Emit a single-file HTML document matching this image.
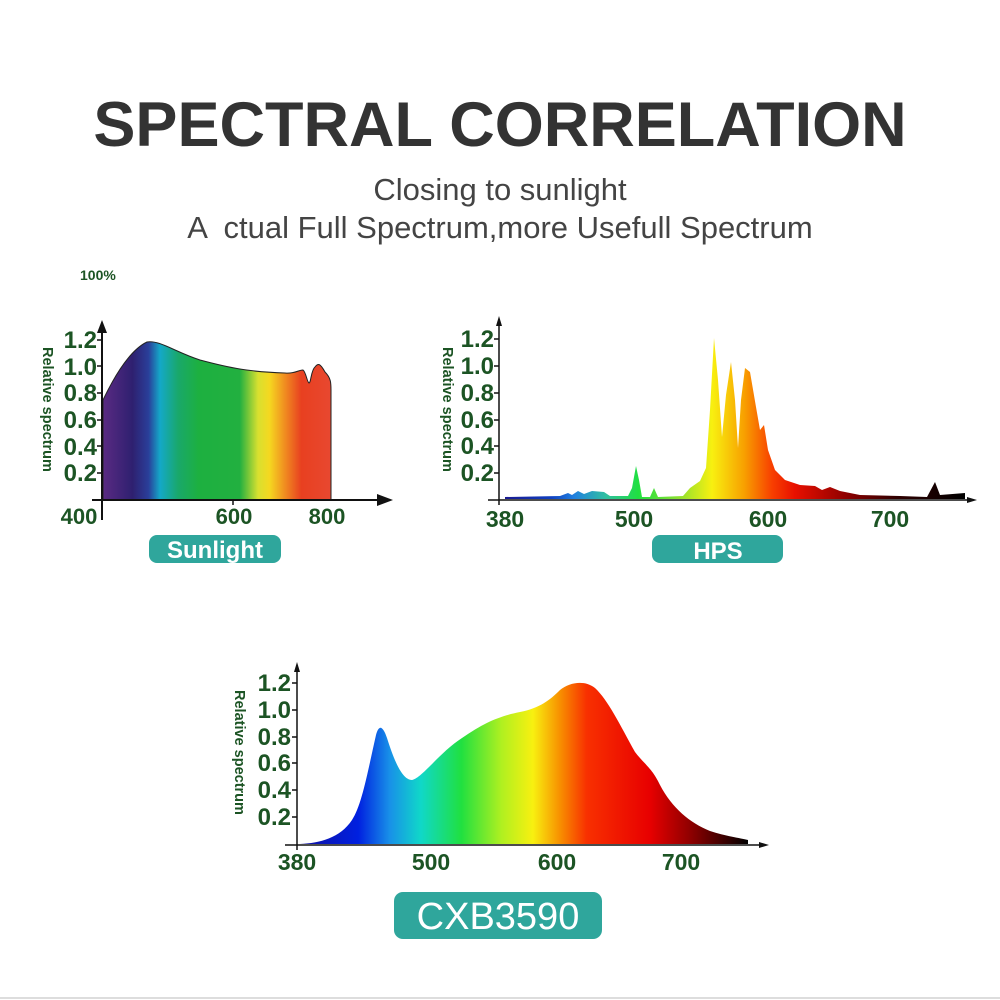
<!DOCTYPE html>
<html><head><meta charset="utf-8"><style>
body{margin:0;background:#fff;width:1000px;height:1000px;overflow:hidden}
svg{display:block}
.t{font-family:"Liberation Sans",sans-serif;font-weight:bold;fill:#1c5424}
</style></head><body>
<svg width="1000" height="1000" viewBox="0 0 1000 1000">
<defs>
<linearGradient id="gs" gradientUnits="userSpaceOnUse" x1="103" x2="331" y1="0" y2="0">
<stop offset="0" stop-color="#5a2a82"/><stop offset="0.13" stop-color="#2e2070"/>
<stop offset="0.2" stop-color="#2a3f9a"/><stop offset="0.25" stop-color="#14a8c8"/>
<stop offset="0.33" stop-color="#19a86a"/><stop offset="0.42" stop-color="#1db040"/>
<stop offset="0.6" stop-color="#22b040"/><stop offset="0.68" stop-color="#d8e030"/>
<stop offset="0.73" stop-color="#f5d820"/><stop offset="0.8" stop-color="#f08a20"/>
<stop offset="0.87" stop-color="#e84020"/><stop offset="1" stop-color="#e84830"/>
</linearGradient>
<linearGradient id="gh" gradientUnits="userSpaceOnUse" x1="505" x2="965" y1="0" y2="0">
<stop offset="0" stop-color="#1a1a90"/><stop offset="0.1" stop-color="#1040c0"/>
<stop offset="0.15" stop-color="#2080e0"/><stop offset="0.22" stop-color="#30c0a0"/>
<stop offset="0.29" stop-color="#20e040"/><stop offset="0.38" stop-color="#90e030"/>
<stop offset="0.45" stop-color="#f8f010"/><stop offset="0.52" stop-color="#f8a000"/>
<stop offset="0.58" stop-color="#f84000"/><stop offset="0.63" stop-color="#e81000"/>
<stop offset="0.74" stop-color="#900000"/><stop offset="0.85" stop-color="#300000"/>
<stop offset="1" stop-color="#000"/>
</linearGradient>
<linearGradient id="gc" gradientUnits="userSpaceOnUse" x1="300" x2="748" y1="0" y2="0">
<stop offset="0" stop-color="#1010a0"/><stop offset="0.13" stop-color="#0020e0"/>
<stop offset="0.2" stop-color="#1890e8"/><stop offset="0.27" stop-color="#10d8c8"/>
<stop offset="0.36" stop-color="#20e040"/><stop offset="0.45" stop-color="#b0f020"/>
<stop offset="0.52" stop-color="#f8f010"/><stop offset="0.58" stop-color="#f89000"/>
<stop offset="0.64" stop-color="#f83000"/><stop offset="0.78" stop-color="#e80000"/>
<stop offset="0.87" stop-color="#900000"/><stop offset="1" stop-color="#000"/>
</linearGradient>
</defs>

<text x="500" y="146" text-anchor="middle" font-family="Liberation Sans,sans-serif" font-weight="bold" font-size="63" fill="#333">SPECTRAL CORRELATION</text>
<text x="500" y="200" text-anchor="middle" font-family="Liberation Sans,sans-serif" font-size="31" fill="#444">Closing to sunlight</text>
<text x="500" y="238" text-anchor="middle" font-family="Liberation Sans,sans-serif" font-size="31" fill="#444" xml:space="preserve">A  ctual Full Spectrum,more Usefull Spectrum</text>

<!-- Sunlight -->
<text class="t" x="80" y="280" font-size="14">100%</text>
<path d="M103,500 L103,400 C115,375 130,350 147,342 C160,340 175,352 200,360 C230,368 250,372 285,373 C295,374 298,370 303,370 C306,372 307,382 309,383 C311,383 311,370 315,367 C318,363 320,363 325,372 C331,378 331,383 331,390 L331,500 Z" fill="url(#gs)" stroke="#222" stroke-width="1"/>
<line x1="102" y1="330" x2="102" y2="520" stroke="#111" stroke-width="2"/>
<polygon points="102,320 97,333 107,333" fill="#111"/>
<line x1="92" y1="500" x2="380" y2="500" stroke="#111" stroke-width="2"/>
<polygon points="393,500 377,494 377,506" fill="#111"/>
<g stroke="#111" stroke-width="1.5"><line x1="97" y1="340" x2="102" y2="340"/><line x1="97" y1="366" x2="102" y2="366"/><line x1="97" y1="393" x2="102" y2="393"/><line x1="97" y1="420" x2="102" y2="420"/><line x1="97" y1="446" x2="102" y2="446"/><line x1="97" y1="473" x2="102" y2="473"/><line x1="233" y1="500" x2="233" y2="505"/></g>
<g class="t" font-size="24" text-anchor="end"><text x="97" y="348">1.2</text><text x="97" y="375">1.0</text><text x="97" y="401">0.8</text><text x="97" y="428">0.6</text><text x="97" y="455">0.4</text><text x="97" y="481">0.2</text></g>
<g class="t" font-size="22" text-anchor="middle"><text x="79" y="524">400</text><text x="234" y="524">600</text><text x="327" y="524">800</text></g>
<text class="t" font-size="14.5" transform="translate(43,347) rotate(90)">Relative spectrum</text>
<rect x="149" y="535" width="132" height="28" rx="8" fill="#2fa69c"/>
<text x="215" y="558" text-anchor="middle" font-family="Liberation Sans,sans-serif" font-weight="bold" font-size="24" fill="#fff">Sunlight</text>

<!-- HPS -->
<path d="M505,499 L505,497 L560,496 L568,493 L572,495 L578,491 L584,494 L592,491 L604,492 L610,496 L628,496 L632,488 L636,466 L639,480 L642,497 L650,497 L654,488 L658,497 L683,496 L690,488 L700,481 L706,468 L710,410 L714,338 L718,380 L722,437 L726,395 L731,362 L735,400 L738,448 L741,400 L745,368 L750,372 L756,407 L760,430 L764,425 L768,450 L775,470 L785,480 L800,485 L815,486 L822,490 L830,487 L840,491 L860,495 L900,496 L927,497 L935,482 L940,495 L965,493 L965,499 Z" fill="url(#gh)"/>
<line x1="499" y1="322" x2="499" y2="505" stroke="#111" stroke-width="1.5"/>
<polygon points="499,316 496,326 502,326" fill="#111"/>
<line x1="488" y1="500" x2="970" y2="500" stroke="#111" stroke-width="1.5"/>
<polygon points="977,500 967,497 967,503" fill="#111"/>
<g stroke="#111" stroke-width="1.5"><line x1="494" y1="339" x2="499" y2="339"/><line x1="494" y1="366" x2="499" y2="366"/><line x1="494" y1="393" x2="499" y2="393"/><line x1="494" y1="420" x2="499" y2="420"/><line x1="494" y1="446" x2="499" y2="446"/><line x1="494" y1="473" x2="499" y2="473"/></g>
<g class="t" font-size="24" text-anchor="end"><text x="494" y="347">1.2</text><text x="494" y="374">1.0</text><text x="494" y="401">0.8</text><text x="494" y="428">0.6</text><text x="494" y="454">0.4</text><text x="494" y="481">0.2</text></g>
<g class="t" font-size="23" text-anchor="middle"><text x="505" y="527">380</text><text x="634" y="527">500</text><text x="768" y="527">600</text><text x="890" y="527">700</text></g>
<text class="t" font-size="14.5" transform="translate(443,347) rotate(90)">Relative spectrum</text>
<rect x="652" y="535" width="131" height="28" rx="8" fill="#2fa69c"/>
<text x="718" y="559" text-anchor="middle" font-family="Liberation Sans,sans-serif" font-weight="bold" font-size="24" fill="#fff">HPS</text>

<!-- CXB -->
<path d="M300,844 C320,843 340,838 352,820 C362,805 368,770 376,735 C379,724 383,726 387,738 C394,760 402,780 412,780 C422,778 440,752 462,738 C485,722 500,716 520,712 C540,708 550,700 560,690 C570,682 585,680 595,688 C608,700 620,725 635,752 C645,765 652,768 660,785 C672,808 690,823 710,831 C725,836 740,838 748,840 L748,844 Z" fill="url(#gc)"/>
<line x1="297" y1="668" x2="297" y2="850" stroke="#111" stroke-width="1.5"/>
<polygon points="297,662 294,672 300,672" fill="#111"/>
<line x1="285" y1="845" x2="762" y2="845" stroke="#111" stroke-width="1.5"/>
<polygon points="769,845 759,842 759,848" fill="#111"/>
<g stroke="#111" stroke-width="1.5"><line x1="292" y1="683" x2="297" y2="683"/><line x1="292" y1="710" x2="297" y2="710"/><line x1="292" y1="737" x2="297" y2="737"/><line x1="292" y1="763" x2="297" y2="763"/><line x1="292" y1="790" x2="297" y2="790"/><line x1="292" y1="817" x2="297" y2="817"/></g>
<g class="t" font-size="24" text-anchor="end"><text x="291" y="691">1.2</text><text x="291" y="718">1.0</text><text x="291" y="745">0.8</text><text x="291" y="771">0.6</text><text x="291" y="798">0.4</text><text x="291" y="825">0.2</text></g>
<g class="t" font-size="23" text-anchor="middle"><text x="297" y="870">380</text><text x="431" y="870">500</text><text x="557" y="870">600</text><text x="681" y="870">700</text></g>
<text class="t" font-size="14.5" transform="translate(235,690) rotate(90)">Relative spectrum</text>
<rect x="394" y="892" width="208" height="47" rx="9" fill="#2fa69c"/>
<text x="498" y="929" text-anchor="middle" font-family="Liberation Sans,sans-serif" font-size="38" fill="#fff">CXB3590</text>
<line x1="0" y1="998" x2="1000" y2="998" stroke="#ddd" stroke-width="2"/>
</svg>
</body></html>
